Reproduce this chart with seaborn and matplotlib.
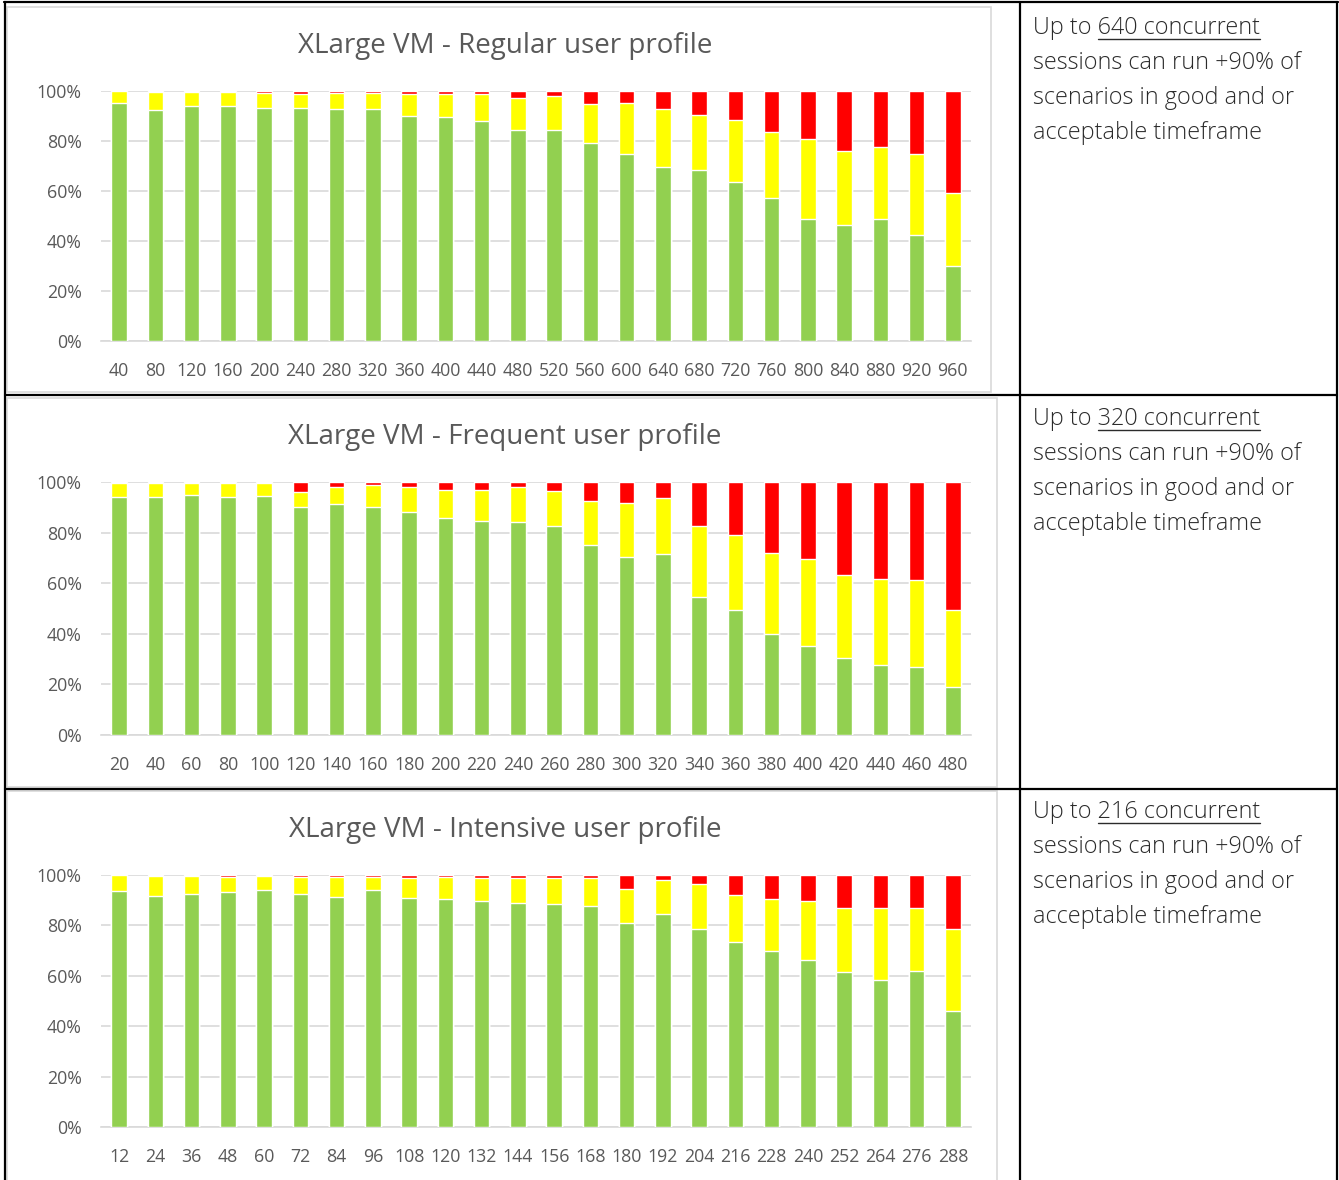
import numpy as np
import pandas as pd
import seaborn as sns
import matplotlib.pyplot as plt
from matplotlib.lines import Line2D
from matplotlib.patches import Rectangle
from matplotlib.ticker import FuncFormatter

W, H = 1339, 1180

# ---- data (percent of scenarios: good / acceptable / poor) ----
regular_sessions = [40, 80, 120, 160, 200, 240, 280, 320, 360, 400, 440, 480,
                    520, 560, 600, 640, 680, 720, 760, 800, 840, 880, 920, 960]
regular_good = [95.0, 92.2, 93.9, 93.9, 93.1, 93.1, 92.6, 92.6, 90.1, 89.5, 87.8, 84.2,
                84.2, 79.2, 74.8, 69.5, 68.3, 63.4, 57.3, 48.7, 46.2, 48.7, 42.2, 29.8]
regular_acceptable = [5.0, 7.3, 5.6, 5.6, 6.0, 5.6, 6.5, 6.5, 8.6, 9.2, 10.9, 13.1,
                      13.7, 15.6, 20.4, 23.1, 22.2, 24.8, 26.1, 32.1, 29.8, 29.0, 32.5, 29.2]
regular_poor = [0.0, 0.5, 0.5, 0.5, 0.9, 1.3, 0.9, 0.9, 1.3, 1.3, 1.3, 2.7,
                2.1, 5.2, 4.8, 7.4, 9.5, 11.8, 16.6, 19.2, 24.0, 22.3, 25.3, 41.0]

frequent_sessions = [20, 40, 60, 80, 100, 120, 140, 160, 180, 200, 220, 240,
                     260, 280, 300, 320, 340, 360, 380, 400, 420, 440, 460, 480]
frequent_good = [93.9, 93.9, 94.9, 93.9, 94.5, 90.0, 91.3, 90.0, 88.3, 85.6, 84.7, 84.3,
                 82.6, 75.1, 70.4, 71.7, 54.5, 49.4, 39.8, 35.0, 30.6, 27.7, 26.7, 19.0]
frequent_acceptable = [5.6, 5.6, 4.6, 5.6, 5.1, 6.0, 6.9, 8.7, 9.9, 11.2, 12.1, 13.9,
                       13.8, 17.5, 21.3, 21.8, 28.0, 29.7, 32.3, 34.4, 32.8, 34.0, 34.4, 30.4]
frequent_poor = [0.5, 0.5, 0.5, 0.5, 0.4, 4.0, 1.8, 1.3, 1.8, 3.2, 3.2, 1.8,
                 3.6, 7.4, 8.3, 6.5, 17.5, 20.9, 27.9, 30.6, 36.6, 38.3, 38.9, 50.6]

intensive_sessions = [12, 24, 36, 48, 60, 72, 84, 96, 108, 120, 132, 144,
                      156, 168, 180, 192, 204, 216, 228, 240, 252, 264, 276, 288]
intensive_good = [93.7, 91.8, 92.3, 93.3, 94.1, 92.3, 91.4, 94.1, 91.0, 90.6, 89.7, 88.8,
                  88.4, 87.8, 81.0, 84.4, 78.7, 73.4, 70.0, 66.4, 61.7, 58.3, 62.1, 46.1]
intensive_acceptable = [6.3, 7.8, 7.3, 5.9, 5.5, 6.9, 7.8, 5.1, 7.7, 8.6, 9.0, 9.9,
                        10.3, 10.9, 13.5, 13.5, 17.9, 18.8, 20.5, 23.2, 25.2, 28.6, 24.8, 32.6]
intensive_poor = [0.0, 0.4, 0.4, 0.8, 0.4, 0.8, 0.8, 0.8, 1.3, 0.8, 1.3, 1.3,
                  1.3, 1.3, 5.5, 2.1, 3.4, 7.8, 9.5, 10.4, 13.1, 13.1, 13.1, 21.3]

titles = ["XLarge VM - Regular user profile",
          "XLarge VM - Frequent user profile",
          "XLarge VM - Intensive user profile"]
limits = ["640 concurrent", "320 concurrent", "216 concurrent"]
note_lines = ["sessions can run +90% of", "scenarios in good and or", "acceptable timeframe"]

GREEN, YELLOW, RED = "#92D050", "#FFFF00", "#FF0000"
GRID = "#d9d9d9"
TXT = "#595959"
NOTE = "#2b2b2b"

sns.set_theme(style="white")
plt.rcParams["font.family"] = ["Open Sans", "DejaVu Sans"]

fig = plt.figure(figsize=(W / 100, H / 100), dpi=100)


def fx(px):
    return px / W


def fy(py):
    return 1 - py / H


panels = [
    (regular_sessions, regular_good, regular_acceptable, regular_poor, 91, 341, 45, 7, 991, 7, 392, 28),
    (frequent_sessions, frequent_good, frequent_acceptable, frequent_poor, 482, 735, 436, 7, 997, 398, 787, 419),
    (intensive_sessions, intensive_good, intensive_acceptable, intensive_poor, 875, 1127, 829, 7, 997, 791, 1182, 812),
]

for i, (sess, good, acc, poor, top, bot, ty, bx0, bx1, by0, by1, note_y) in enumerate(panels):
    # light chart frame
    fig.add_artist(Rectangle((fx(bx0), fy(by1)), fx(bx1) - fx(bx0), fy(by0) - fy(by1),
                             transform=fig.transFigure, fill=False, edgecolor=GRID, lw=1.2))

    ax = fig.add_axes([fx(101), fy(bot), fx(971) - fx(101), fy(top) - fy(bot)])
    df = pd.DataFrame({"sessions": [str(s) for s in sess],
                       "good": good, "acceptable": acc, "poor": poor})
    df["l2"] = df["good"] + df["acceptable"]
    df["l3"] = df["l2"] + df["poor"]
    order = df["sessions"].tolist()
    for col, c in [("l3", RED), ("l2", YELLOW), ("good", GREEN)]:
        sns.barplot(data=df, x="sessions", y=col, order=order, color=c, saturation=1,
                    width=0.43, ax=ax, zorder=3)

    ax.set_ylim(0, 100)
    ax.set_xlim(-0.5, len(sess) - 0.5)
    ax.set_yticks([0, 20, 40, 60, 80, 100])
    ax.yaxis.set_major_formatter(FuncFormatter(lambda v, p: f"{v:.0f}%"))
    ax.grid(axis="y", color=GRID, lw=1.2, zorder=0)
    ax.set_axisbelow(True)
    for s in ["top", "left", "right"]:
        ax.spines[s].set_visible(False)
    ax.spines["bottom"].set_color(GRID)
    ax.spines["bottom"].set_linewidth(1.2)
    ax.set_xlabel("")
    ax.set_ylabel("")
    ax.tick_params(axis="both", length=0, colors=TXT, labelsize=12.8)
    ax.tick_params(axis="y", pad=14)
    ax.tick_params(axis="x", pad=15)

    fig.text(fx(505), fy(ty + 1), titles[i], ha="center", va="center",
             fontsize=20, color=TXT)

    # note cell on the right
    tx = fx(1033)
    t_full = fig.text(tx, fy(note_y), "Up to " + limits[i], ha="left", va="center",
                      fontsize=16.8, color=NOTE, fontweight="light")
    for k, line in enumerate(note_lines):
        fig.text(tx, fy(note_y + 35 * (k + 1)), line, ha="left", va="center",
                 fontsize=16.8, color=NOTE, fontweight="light")
    fig.canvas.draw()
    r = fig.canvas.get_renderer()
    ext = t_full.get_window_extent(r)
    probe = fig.text(0, 0, limits[i], fontsize=16.8, fontweight="light")
    wpx = probe.get_window_extent(r).width
    probe.remove()
    uy = ext.y0 + 1
    fig.add_artist(Line2D([(ext.x1 - wpx) / W, ext.x1 / W], [uy / H, uy / H],
                          transform=fig.transFigure, color=NOTE, lw=1))

# table lines
black = dict(transform=fig.transFigure, color="black", lw=1.6)
fig.add_artist(Line2D([fx(4), fx(1338)], [fy(2), fy(2)], **black))
fig.add_artist(Line2D([fx(5), fx(5)], [fy(2), fy(1180)], **black))
fig.add_artist(Line2D([fx(1337), fx(1337)], [fy(2), fy(1180)], **black))
fig.add_artist(Line2D([fx(1020), fx(1020)], [fy(2), fy(1180)], **black))
fig.add_artist(Line2D([fx(5), fx(1337)], [fy(395), fy(395)], **black))
fig.add_artist(Line2D([fx(5), fx(1337)], [fy(789), fy(789)], **black))

fig.savefig("out.png", dpi=100)
